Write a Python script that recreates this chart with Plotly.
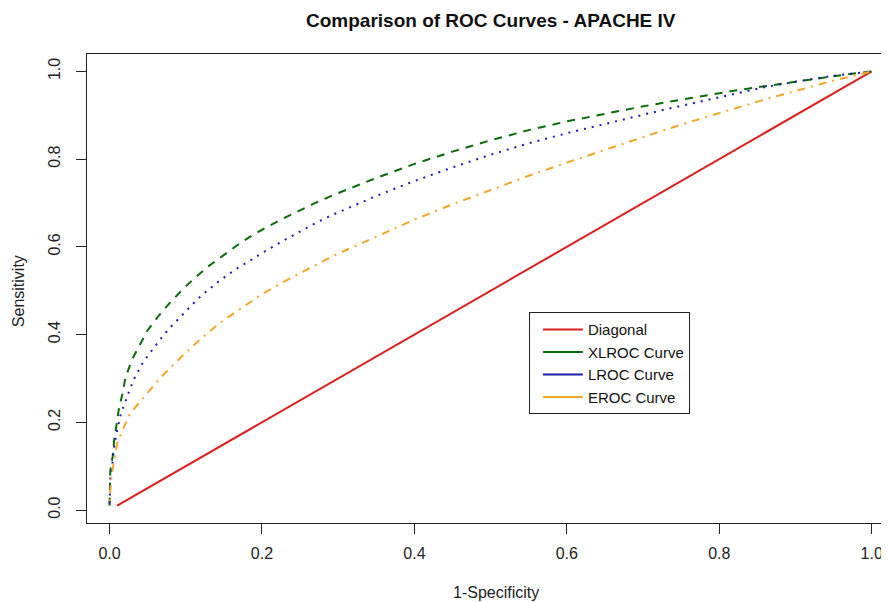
import plotly.graph_objects as go

# diagonal reference line
diag_x = [0.01, 1.0]
diag_y = [0.01, 1.0]

# XLROC curve (green dashed)
xlroc_fpr = [0, 0.001, 0.004, 0.006, 0.009, 0.012, 0.017, 0.021, 0.03, 0.041, 0.05, 0.065,
             0.08, 0.097, 0.113, 0.13, 0.15, 0.167, 0.185, 0.205, 0.226, 0.248, 0.27, 0.292,
             0.35, 0.4, 0.45, 0.5, 0.55, 0.6, 0.653, 0.696, 0.738, 0.781, 0.823, 0.867,
             0.906, 0.95, 1.0]
xlroc_tpr = [0.01, 0.09, 0.121, 0.159, 0.193, 0.228, 0.266, 0.303, 0.345, 0.38, 0.41, 0.444,
             0.474, 0.505, 0.531, 0.556, 0.582, 0.603, 0.624, 0.644, 0.663, 0.682, 0.7, 0.717,
             0.757, 0.789, 0.817, 0.843, 0.866, 0.886, 0.905, 0.919, 0.932, 0.945, 0.957, 0.968,
             0.978, 0.989, 1.0]

# LROC curve (blue dotted)
lroc_fpr = [0, 0.001, 0.004, 0.006, 0.009, 0.012, 0.015, 0.019, 0.023, 0.027, 0.032, 0.043,
            0.052, 0.062, 0.071, 0.08, 0.095, 0.106, 0.115, 0.124, 0.143, 0.163, 0.183, 0.205,
            0.226, 0.248, 0.268, 0.29, 0.35, 0.4, 0.45, 0.5, 0.55, 0.6, 0.644, 0.687, 0.731,
            0.775, 0.819, 0.862, 0.906, 0.95, 1.0]
lroc_tpr = [0.015, 0.072, 0.11, 0.144, 0.174, 0.2, 0.221, 0.239, 0.259, 0.277, 0.298, 0.334,
            0.356, 0.38, 0.399, 0.417, 0.445, 0.465, 0.48, 0.494, 0.521, 0.546, 0.568, 0.591,
            0.612, 0.633, 0.652, 0.671, 0.716, 0.75, 0.781, 0.81, 0.836, 0.859, 0.878, 0.896,
            0.914, 0.931, 0.948, 0.965, 0.978, 0.99, 1.0]

# EROC curve (orange dot-dash)
eroc_fpr = [0, 0.002, 0.006, 0.01, 0.017, 0.027, 0.038, 0.049, 0.06, 0.067, 0.093, 0.122,
            0.146, 0.172, 0.198, 0.226, 0.255, 0.281, 0.298, 0.35, 0.4, 0.45, 0.5, 0.55, 0.6,
            0.644, 0.687, 0.731, 0.775, 0.819, 0.862, 0.906, 0.95, 1.0]
eroc_tpr = [0.02, 0.068, 0.114, 0.151, 0.182, 0.22, 0.243, 0.266, 0.288, 0.302, 0.347, 0.394,
            0.428, 0.46, 0.49, 0.518, 0.545, 0.568, 0.583, 0.624, 0.662, 0.697, 0.73, 0.762,
            0.792, 0.818, 0.843, 0.868, 0.892, 0.915, 0.937, 0.958, 0.979, 1.0]

x_ticks = [0.0, 0.2, 0.4, 0.6, 0.8, 1.0]
y_ticks = [0.0, 0.2, 0.4, 0.6, 0.8, 1.0]

FONT = "Liberation Sans, Arial, sans-serif"
RED = "#DA1F1F"
GREEN = "#0B6B0B"
BLUE = "#1C1CB0"
ORANGE = "#F0A82A"

series = [
    ("Diagonal", diag_x, diag_y, RED, "solid"),
    ("XLROC Curve", xlroc_fpr, xlroc_tpr, GREEN, "8px,7px"),
    ("LROC Curve", lroc_fpr, lroc_tpr, BLUE, "2px,6px"),
    ("EROC Curve", eroc_fpr, eroc_tpr, ORANGE, "2px,6px,8px,6px"),
]

fig = go.Figure()
for name, xs, ys, color, dash in series:
    fig.add_trace(
        go.Scatter(
            x=xs,
            y=ys,
            mode="lines",
            line=dict(color=color, width=2, dash=dash),
            showlegend=False,
            hovertemplate=f"FPR=%{{x}}<br>TPR=%{{y}}<extra>{name}</extra>",
        )
    )
# solid legend keys, like the R legend
for name, xs, ys, color, dash in series:
    fig.add_trace(
        go.Scatter(
            x=[None],
            y=[None],
            mode="lines",
            name=name,
            line=dict(color=color, width=2),
        )
    )

axis_common = dict(
    showgrid=False,
    zeroline=False,
    showline=True,
    linecolor="#222",
    linewidth=1,
    ticks="outside",
    ticklen=10,
    tickwidth=1,
    tickcolor="#222",
    tickfont=dict(family=FONT, size=16, color="#222"),
    tickformat=".1f",
)

fig.update_xaxes(
    range=[-0.0296, 1.0227],
    tickvals=x_ticks,
    mirror=True,
    ticklabelstandoff=6,
    **axis_common,
)
fig.update_yaxes(
    range=[-0.0296, 1.0396],
    tickvals=y_ticks,
    tickangle=-90,
    ticklabelstandoff=10,
    **axis_common,
)

# page body adds an 8px offset, so the figure is sized to fill the rest of the window
fig.update_layout(
    width=881,
    height=594,
    margin=dict(l=79, r=0, t=46, b=79),
    paper_bgcolor="white",
    plot_bgcolor="white",
    font=dict(family=FONT, color="#222"),
    title=dict(
        text="<b>Comparison of ROC Curves - APACHE IV</b>",
        x=0.548,
        xanchor="center",
        y=0.98,
        yanchor="middle",
        font=dict(family=FONT, size=19, color="#111"),
    ),
    legend=dict(
        x=0.551,
        y=0.4495,
        xanchor="left",
        yanchor="top",
        bgcolor="white",
        bordercolor="#222",
        borderwidth=1,
        font=dict(family=FONT, size=15, color="#111"),
        indentation=8,
        itemwidth=40,
        tracegroupgap=0,
    ),
    annotations=[
        dict(
            text="1-Specificity",
            x=0.5105,
            y=-0.148,
            xref="paper",
            yref="paper",
            xanchor="center",
            yanchor="middle",
            showarrow=False,
            font=dict(family=FONT, size=16, color="#222"),
        ),
        dict(
            text="Sensitivity",
            x=-0.0856,
            y=0.495,
            xref="paper",
            yref="paper",
            xanchor="center",
            yanchor="middle",
            textangle=-90,
            showarrow=False,
            font=dict(family=FONT, size=16, color="#222"),
        ),
    ],
)

fig.write_html("out.html")
